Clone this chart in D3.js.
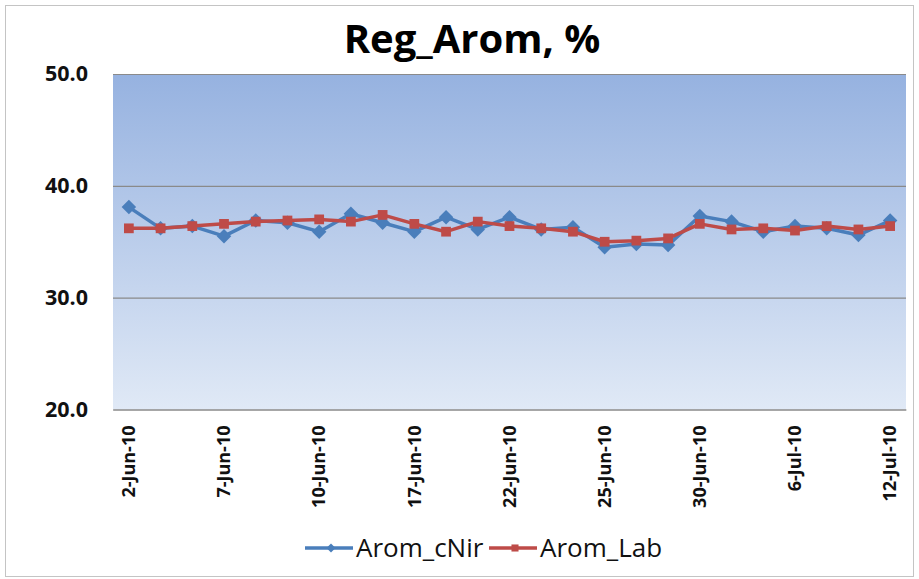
<!DOCTYPE html>
<html>
<head>
<meta charset="utf-8">
<script src="https://cdn.jsdelivr.net/npm/d3@7"></script>
<style>
  body { margin: 0; background: #fff; }
  svg { display: block; }
</style>
</head>
<body>
<svg id="vis_svg" width="919" height="579"></svg>
<script>
// categories (every 3rd shown on the axis)
const dates = [
  '2-Jun-10', '3-Jun-10', '4-Jun-10', '7-Jun-10', '8-Jun-10', '9-Jun-10',
  '10-Jun-10', '11-Jun-10', '14-Jun-10', '17-Jun-10', '18-Jun-10', '21-Jun-10',
  '22-Jun-10', '23-Jun-10', '24-Jun-10', '25-Jun-10', '28-Jun-10', '29-Jun-10',
  '30-Jun-10', '1-Jul-10', '2-Jul-10', '6-Jul-10', '7-Jul-10', '9-Jul-10',
  '12-Jul-10'
];

const arom_cnir = [
  38.1, 36.2, 36.4, 35.5, 36.9, 36.7, 35.9, 37.5, 36.7, 35.9, 37.2, 36.1,
  37.2, 36.1, 36.3, 34.5, 34.8, 34.7, 37.3, 36.8, 35.9, 36.4, 36.2, 35.6,
  36.9
];

const arom_lab = [
  36.2, 36.2, 36.4, 36.6, 36.8, 36.9, 37.0, 36.8, 37.4, 36.6, 35.9, 36.8,
  36.4, 36.2, 35.9, 35.0, 35.1, 35.3, 36.6, 36.1, 36.2, 36.0, 36.4, 36.1,
  36.4
];

const y_ticks = [20, 30, 40, 50];

const draw_chart = () => {
  const svg = d3.select('#vis_svg');

  const margin = { top: 74, bottom: 169.5, left: 113, right: 13 };
  const width = 919;
  const height = 579;

  // outer chart border
  svg.append('rect')
    .attr('x', 5.5).attr('y', 5.5)
    .attr('width', 908).attr('height', 571)
    .attr('fill', '#fff')
    .attr('stroke', '#c4c4c4')
    .attr('stroke-width', 1);

  // plot area gradient
  const defs = svg.append('defs');
  const grad = defs.append('linearGradient')
    .attr('id', 'plot_bg')
    .attr('x1', 0).attr('y1', 0).attr('x2', 0).attr('y2', 1);
  grad.append('stop').attr('offset', '0%').attr('stop-color', '#96b2e0');
  grad.append('stop').attr('offset', '100%').attr('stop-color', '#e0e9f6');

  const xScale = d3.scaleBand()
    .domain(dates)
    .range([margin.left, width - margin.right])
    .padding(0);

  const yScale = d3.scaleLinear()
    .domain([20, 50])
    .range([height - margin.bottom, margin.top]);

  svg.append('rect')
    .attr('x', margin.left)
    .attr('y', margin.top)
    .attr('width', width - margin.left - margin.right)
    .attr('height', height - margin.top - margin.bottom)
    .attr('fill', 'url(#plot_bg)');

  // y axis + gridlines
  const g_y = svg.append('g')
    .attr('transform', `translate(${margin.left},0)`)
    .call(d3.axisLeft(yScale)
      .tickValues(y_ticks)
      .tickFormat(d3.format('.1f'))
      .tickSize(-(width - margin.left - margin.right))
      .tickPadding(25));
  g_y.select('.domain').remove();
  g_y.selectAll('line').attr('stroke', '#8a8a8a').attr('stroke-width', 1.2);
  g_y.selectAll('text')
    .attr('fill', '#111')
    .style('font-family', '"Open Sans", sans-serif')
    .style('font-weight', 'bold')
    .style('font-size', '21.5px');

  // x axis
  const g_x = svg.append('g')
    .attr('transform', `translate(0,${height - margin.bottom})`)
    .call(d3.axisBottom(xScale)
      .tickValues(dates.filter((d, i) => i % 3 === 0))
      .tickSize(0));
  g_x.select('.domain').attr('stroke', '#8a8a8a').attr('stroke-width', 1.2);
  g_x.selectAll('text')
    .attr('transform', 'rotate(-90)')
    .attr('x', -16)
    .attr('y', 0)
    .attr('dy', '0.35em')
    .style('text-anchor', 'end')
    .attr('fill', '#111')
    .style('font-family', '"Open Sans", sans-serif')
    .style('font-weight', 'bold')
    .style('font-size', '18px');

  const cx = (d, i) => xScale(dates[i]) + xScale.bandwidth() / 2;

  const line = d3.line()
    .x((d, i) => cx(d, i))
    .y((d) => yScale(d));

  const series = [
    { name: 'Arom_cNir', values: arom_cnir, color: '#4a7ebb', symbol: 'diamond' },
    { name: 'Arom_Lab', values: arom_lab, color: '#be4b48', symbol: 'square' },
  ];

  const markerPath = (s, big) => {
    if (s.symbol === 'diamond') {
      return d3.symbol().type(d3.symbolSquare).size(big ? 105 : 40)();
    }
    return d3.symbol().type(d3.symbolSquare).size(big ? 95 : 50)();
  };

  series.forEach((s) => {
    svg.append('path')
      .datum(s.values)
      .attr('d', line)
      .attr('fill', 'none')
      .attr('stroke', s.color)
      .attr('stroke-width', 3.5)
      .attr('stroke-linejoin', 'round');

    svg.selectAll('.m_' + s.symbol)
      .data(s.values)
      .enter()
      .append('path')
      .attr('class', 'm_' + s.symbol)
      .attr('d', markerPath(s, true))
      .attr('transform', (d, i) =>
        `translate(${cx(d, i)},${yScale(d)})` + (s.symbol === 'diamond' ? ' rotate(45)' : ''))
      .attr('fill', s.color);
  });

  // title
  svg.append('text')
    .attr('x', 472)
    .attr('y', 53)
    .attr('text-anchor', 'middle')
    .style('font-family', '"Open Sans", sans-serif')
    .style('font-weight', 'bold')
    .style('font-size', '40px')
    .attr('fill', '#000')
    .text('Reg_Arom, %');

  // legend
  const legend_x = [305, 489];
  const legend = svg.append('g');
  series.forEach((s, k) => {
    const g = legend.append('g').attr('transform', `translate(${legend_x[k]},548)`);
    g.append('line')
      .attr('x1', 0).attr('x2', 48)
      .attr('y1', 0).attr('y2', 0)
      .attr('stroke', s.color)
      .attr('stroke-width', 3.5);
    g.append('path')
      .attr('d', markerPath(s, false))
      .attr('transform', 'translate(26,0)' + (s.symbol === 'diamond' ? ' rotate(45) ' : ''))
      .attr('fill', s.color);
    g.append('text')
      .attr('x', 51)
      .attr('y', 9)
      .style('font-family', '"Open Sans", sans-serif')
      .style('font-size', '26px')
      .attr('fill', '#111')
      .text(s.name);
  });
};

draw_chart();
</script>
</body>
</html>
